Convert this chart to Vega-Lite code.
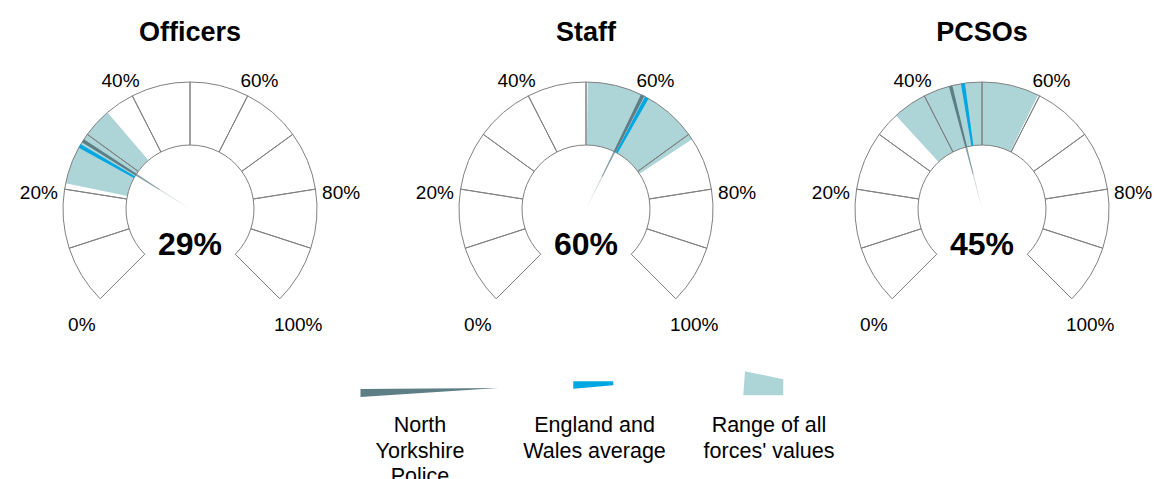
{
  "$schema": "https://vega.github.io/schema/vega-lite/v6.json",
  "padding": {"left": 10, "top": 19, "right": 0, "bottom": 0},
  "background": "white",
  "config": {"view": {"stroke": null}, "font": "Liberation Sans", "text": {"font": "Liberation Sans"}},
  "spacing": 5,
  "vconcat": [
    {
      "data": {"values": [
        {"panel": "Officers", "kind": "seg", "lo": 0.0, "hi": 0.1},
        {"panel": "Officers", "kind": "seg", "lo": 0.1, "hi": 0.2},
        {"panel": "Officers", "kind": "seg", "lo": 0.2, "hi": 0.3},
        {"panel": "Officers", "kind": "seg", "lo": 0.3, "hi": 0.4},
        {"panel": "Officers", "kind": "seg", "lo": 0.4, "hi": 0.5},
        {"panel": "Officers", "kind": "seg", "lo": 0.5, "hi": 0.6},
        {"panel": "Officers", "kind": "seg", "lo": 0.6, "hi": 0.7},
        {"panel": "Officers", "kind": "seg", "lo": 0.7, "hi": 0.8},
        {"panel": "Officers", "kind": "seg", "lo": 0.8, "hi": 0.9},
        {"panel": "Officers", "kind": "seg", "lo": 0.9, "hi": 1.0},
        {"panel": "Staff", "kind": "seg", "lo": 0.0, "hi": 0.1},
        {"panel": "Staff", "kind": "seg", "lo": 0.1, "hi": 0.2},
        {"panel": "Staff", "kind": "seg", "lo": 0.2, "hi": 0.3},
        {"panel": "Staff", "kind": "seg", "lo": 0.3, "hi": 0.4},
        {"panel": "Staff", "kind": "seg", "lo": 0.4, "hi": 0.5},
        {"panel": "Staff", "kind": "seg", "lo": 0.5, "hi": 0.6},
        {"panel": "Staff", "kind": "seg", "lo": 0.6, "hi": 0.7},
        {"panel": "Staff", "kind": "seg", "lo": 0.7, "hi": 0.8},
        {"panel": "Staff", "kind": "seg", "lo": 0.8, "hi": 0.9},
        {"panel": "Staff", "kind": "seg", "lo": 0.9, "hi": 1.0},
        {"panel": "PCSOs", "kind": "seg", "lo": 0.0, "hi": 0.1},
        {"panel": "PCSOs", "kind": "seg", "lo": 0.1, "hi": 0.2},
        {"panel": "PCSOs", "kind": "seg", "lo": 0.2, "hi": 0.3},
        {"panel": "PCSOs", "kind": "seg", "lo": 0.3, "hi": 0.4},
        {"panel": "PCSOs", "kind": "seg", "lo": 0.4, "hi": 0.5},
        {"panel": "PCSOs", "kind": "seg", "lo": 0.5, "hi": 0.6},
        {"panel": "PCSOs", "kind": "seg", "lo": 0.6, "hi": 0.7},
        {"panel": "PCSOs", "kind": "seg", "lo": 0.7, "hi": 0.8},
        {"panel": "PCSOs", "kind": "seg", "lo": 0.8, "hi": 0.9},
        {"panel": "PCSOs", "kind": "seg", "lo": 0.9, "hi": 1.0},
        {"panel": "Officers", "kind": "range", "lo": 0.21, "hi": 0.35},
        {"panel": "Staff", "kind": "range", "lo": 0.503, "hi": 0.71},
        {"panel": "PCSOs", "kind": "range", "lo": 0.342, "hi": 0.597},
        {"panel": "Officers", "kind": "avg", "v": 0.277},
        {"panel": "Staff", "kind": "avg", "v": 0.606},
        {"panel": "PCSOs", "kind": "avg", "v": 0.468},
        {"panel": "Officers", "kind": "force", "v": 0.287},
        {"panel": "Staff", "kind": "force", "v": 0.598},
        {"panel": "PCSOs", "kind": "force", "v": 0.447},
        {"panel": "Officers", "kind": "tick", "v": 0.0},
        {"panel": "Officers", "kind": "tick", "v": 0.2},
        {"panel": "Officers", "kind": "tick", "v": 0.4},
        {"panel": "Officers", "kind": "tick", "v": 0.6},
        {"panel": "Officers", "kind": "tick", "v": 0.8},
        {"panel": "Officers", "kind": "tick", "v": 1.0},
        {"panel": "Staff", "kind": "tick", "v": 0.0},
        {"panel": "Staff", "kind": "tick", "v": 0.2},
        {"panel": "Staff", "kind": "tick", "v": 0.4},
        {"panel": "Staff", "kind": "tick", "v": 0.6},
        {"panel": "Staff", "kind": "tick", "v": 0.8},
        {"panel": "Staff", "kind": "tick", "v": 1.0},
        {"panel": "PCSOs", "kind": "tick", "v": 0.0},
        {"panel": "PCSOs", "kind": "tick", "v": 0.2},
        {"panel": "PCSOs", "kind": "tick", "v": 0.4},
        {"panel": "PCSOs", "kind": "tick", "v": 0.6},
        {"panel": "PCSOs", "kind": "tick", "v": 0.8},
        {"panel": "PCSOs", "kind": "tick", "v": 1.0}
      ]},
      "facet": {"column": {"field": "panel", "type": "nominal", "sort": ["Officers", "Staff", "PCSOs"],
        "header": {"title": null, "labelFontSize": 27, "labelFontWeight": "bold", "labelFont": "Liberation Sans", "labelColor": "#000000", "labelPadding": 12}}},
      "spacing": 36,
      "spec": {
        "width": 360,
        "height": 300,
        "layer": [
          {
            "transform": [{"filter": "datum.kind === 'seg'"}],
            "mark": {"type": "arc", "radius": 127, "radius2": 64, "fill": "#ffffff", "strokeWidth": 0},
            "encoding": {
              "theta": {"field": "lo", "type": "quantitative", "stack": null, "scale": {"type": "linear", "domain": [0, 1], "range": [-2.35619, 2.35619]}},
              "theta2": {"field": "hi"}
            }
          },
          {
            "transform": [{"filter": "datum.kind === 'range'"}],
            "mark": {"type": "arc", "radius": 127, "radius2": 64, "fill": "#add5d8", "strokeWidth": 0},
            "encoding": {
              "theta": {"field": "lo", "type": "quantitative", "stack": null},
              "theta2": {"field": "hi"}
            }
          },
          {
            "transform": [{"filter": "datum.kind === 'seg'"}],
            "mark": {"type": "arc", "radius": 127, "radius2": 64, "fillOpacity": 0, "stroke": "#808080", "strokeWidth": 1},
            "encoding": {
              "theta": {"field": "lo", "type": "quantitative", "stack": null},
              "theta2": {"field": "hi"}
            }
          },
          {
            "transform": [{"filter": "datum.kind === 'avg'"}],
            "mark": {"type": "arc", "radius": 127, "radius2": 64, "fill": "#00a7e1", "strokeWidth": 0, "thetaOffset": -0.016, "theta2Offset": 0.016},
            "encoding": {
              "theta": {"field": "v", "type": "quantitative", "stack": null},
              "theta2": {"field": "v"}
            }
          },
          {
            "transform": [{"filter": "datum.kind === 'force'"}],
            "mark": {"type": "arc", "radius": 36, "radius2": 0, "fill": "#5e7e86", "opacity": 0.35, "strokeWidth": 0, "thetaOffset": -0.014, "theta2Offset": 0.014},
            "encoding": {
              "theta": {"field": "v", "type": "quantitative", "stack": null},
              "theta2": {"field": "v"}
            }
          },
          {
            "transform": [{"filter": "datum.kind === 'force'"}],
            "mark": {"type": "arc", "radius": 64, "radius2": 36, "fill": "#5e7e86", "opacity": 0.75, "strokeWidth": 0, "thetaOffset": -0.014, "theta2Offset": 0.014},
            "encoding": {
              "theta": {"field": "v", "type": "quantitative", "stack": null},
              "theta2": {"field": "v"}
            }
          },
          {
            "transform": [{"filter": "datum.kind === 'force'"}],
            "mark": {"type": "arc", "radius": 127, "radius2": 64, "fill": "#5e7e86", "strokeWidth": 0, "thetaOffset": -0.014, "theta2Offset": 0.014},
            "encoding": {
              "theta": {"field": "v", "type": "quantitative", "stack": null},
              "theta2": {"field": "v"}
            }
          },
          {
            "transform": [{"filter": "datum.kind === 'tick'"}],
            "mark": {"type": "text", "fontSize": 19, "font": "Liberation Sans", "color": "#000000", "align": "center", "baseline": "middle", "dy": 8},
            "encoding": {
              "theta": {"field": "v", "type": "quantitative", "stack": null},
              "radius": {"value": 153},
              "text": {"field": "v", "type": "quantitative", "format": ".0%"}
            }
          },
          {
            "transform": [{"filter": "datum.kind === 'force'"}],
            "mark": {"type": "text", "fontSize": 32, "fontWeight": "bold", "font": "Liberation Sans", "color": "#000000", "align": "center", "baseline": "alphabetic", "dy": 46},
            "encoding": {
              "text": {"field": "v", "type": "quantitative", "format": ".0%"}
            }
          }
        ]
      }
    },
    {
      "width": 1149,
      "height": 40,
      "data": {"values": [
        {"item": "North Yorkshire Police", "label": "North\nYorkshire\nPolice"},
        {"item": "England and Wales average", "label": "England and\nWales average"},
        {"item": "Range of all forces' values", "label": "Range of all\nforces' values"}
      ]},
      "layer": [
        {
          "mark": {"type": "point", "filled": true, "size": 18769, "opacity": 1, "strokeWidth": 0},
          "encoding": {
            "x": {"field": "item", "type": "nominal", "axis": null,
              "scale": {"type": "point", "padding": 0, "domain": ["North Yorkshire Police", "England and Wales average", "Range of all forces' values"], "range": [419, 753]}},
            "shape": {"field": "item", "type": "nominal", "legend": null,
              "scale": {"domain": ["North Yorkshire Police", "England and Wales average", "Range of all forces' values"],
                "range": ["M-1,0.073L1.01,0.058L-1,0.19Z", "M-0.332,-0.039L0.252,-0.039L0.252,0.019L-0.332,0.069Z", "M-0.263,-0.185L0.296,-0.069L0.296,0.165L-0.288,0.165Z"]}},
            "color": {"field": "item", "type": "nominal", "legend": null,
              "scale": {"domain": ["North Yorkshire Police", "England and Wales average", "Range of all forces' values"],
                "range": ["#5e7e86", "#00a7e1", "#add5d8"]}}
          }
        },
        {
          "mark": {"type": "text", "fontSize": 21.5, "font": "Liberation Sans", "color": "#000000", "lineBreak": "\n", "lineHeight": 25.5, "align": "center", "baseline": "alphabetic", "dy": 48},
          "encoding": {
            "x": {"field": "item", "type": "nominal", "axis": null,
              "scale": {"type": "point", "padding": 0, "domain": ["North Yorkshire Police", "England and Wales average", "Range of all forces' values"], "range": [410, 759]}},
            "text": {"field": "label"}
          }
        }
      ],
      "resolve": {"scale": {"x": "independent"}}
    }
  ]
}
